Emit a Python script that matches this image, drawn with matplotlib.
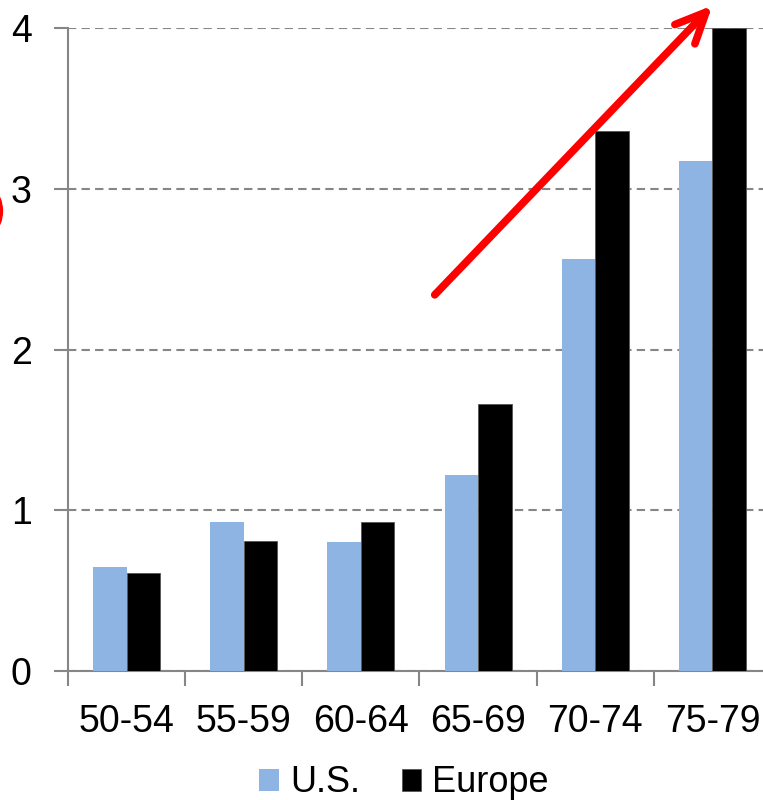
import numpy as np
import matplotlib.pyplot as plt
from matplotlib.patches import Circle

plt.rcParams['font.family'] = ['Liberation Sans', 'DejaVu Sans']

# Ratio by age group
age_groups = ['50-54', '55-59', '60-64', '65-69', '70-74', '75-79']
us = [0.65, 0.93, 0.80, 1.22, 2.56, 3.17]
europe = [0.61, 0.81, 0.93, 1.66, 3.36, 4.00]

grid_gray = '#868686'
fig = plt.figure(figsize=(7.63, 8.0), dpi=100)
ax = fig.add_axes([0.0891, 0.16125, 0.9214, 0.80375])

x = np.arange(len(age_groups))
w = 0.286
ax.bar(x - w / 2, us, w, color='#8EB4E3', label='U.S.', zorder=3)
ax.bar(x + w / 2, europe, w, color='black', edgecolor='#555555',
       linewidth=0.6, label='Europe', zorder=3)

ax.set_xlim(-0.5, 5.5)
ax.set_ylim(0, 4)
ax.set_yticks([0, 1, 2, 3, 4])
ax.yaxis.grid(True, linestyle=(0, (4, 2.5)), color=grid_gray, linewidth=1.5)
ax.set_axisbelow(True)

ax.set_xticks(x)
ax.set_xticklabels(age_groups)
ax.set_xticks(np.arange(-0.5, 5.6, 1), minor=True)
ax.tick_params(axis='x', which='major', length=0, pad=24, labelsize=27)
ax.tick_params(axis='x', which='minor', length=11, width=1.5, color=grid_gray,
               direction='out')
ax.tick_params(axis='y', length=10, width=1.5, color=grid_gray, pad=16,
               labelsize=27)

for side in ['top', 'right']:
    ax.spines[side].set_visible(False)
for side in ['left', 'bottom']:
    ax.spines[side].set_color(grid_gray)
    ax.spines[side].set_linewidth(1.5)

# Trend arrow
ax.annotate('', xy=(5.0, 4.14), xytext=(2.63, 2.34),
            xycoords='data', annotation_clip=False,
            arrowprops=dict(arrowstyle='->,head_length=2.2,head_width=1.0',
                            color='red', linewidth=5.5, capstyle='round',
                            joinstyle='round', shrinkA=0, shrinkB=0))

# Highlight circle, mostly off the left edge
fig.patches.append(Circle((-30 / 763, 1 - 211 / 800), 34 / 800,
                          transform=fig.transFigure, facecolor='red',
                          edgecolor='red', linewidth=1))

fig.legend(loc='center', bbox_to_anchor=(404 / 763, 1 - 783 / 800),
           ncol=2, frameon=False, fontsize=26, handlelength=0.55,
           handleheight=0.55, handletextpad=0.3, columnspacing=1.15)

fig.savefig('out.png', dpi=100)
